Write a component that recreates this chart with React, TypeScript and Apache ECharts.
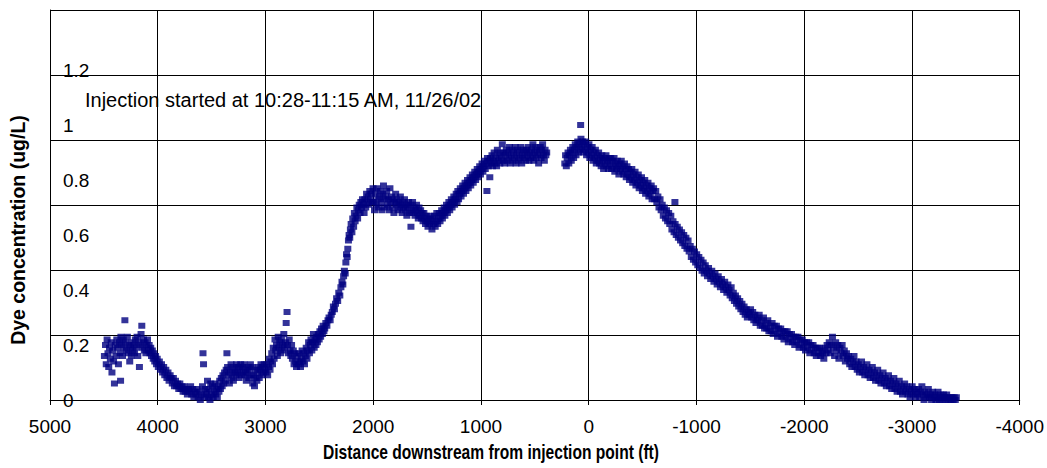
import React, { useEffect, useRef } from "react";
import * as echarts from "echarts";

// Distance downstream (ft) and dye concentration (ug/L)
const upstreamPlume: number[][] = [
  [4495,0.16],[4485,0.2],[4478,0.13],[4470,0.22],[4462,0.17],[4455,0.12],[4448,0.19],[4440,0.15],[4432,0.21],[4425,0.1],
  [4418,0.18],[4410,0.14],[4402,0.06],[4395,0.2],[4388,0.16],[4380,0.22],[4372,0.19],[4365,0.13],[4357,0.21],[4350,0.17],
  [4345,0.07],[4342,0.23],[4335,0.2],[4327,0.16],[4320,0.22],[4312,0.19],[4305,0.29],[4298,0.21],[4290,0.18],[4282,0.23],
  [4275,0.17],[4268,0.2],[4260,0.14],[4252,0.19],[4245,0.16],[4238,0.21],[4230,0.18],[4222,0.2],[4215,0.17],[4208,0.22],
  [4200,0.19],[4192,0.23],[4185,0.16],[4178,0.21],[4170,0.12],[4162,0.2],[4155,0.24],[4148,0.27],[4140,0.19],[4132,0.22],
  [4125,0.18],[4118,0.21],[4110,0.17],[4102,0.2],[4095,0.22],[4088,0.18],[4080,0.2],[4072,0.17],[4065,0.19],[4058,0.16],
  [4050,0.18],[4042,0.15],[4035,0.17],[4028,0.14],[4020,0.16],[4012,0.13],[4005,0.15],[3995,0.12],[3985,0.14],[3975,0.11],
  [3965,0.13],[3955,0.1],[3945,0.12],[3935,0.09],[3925,0.11],[3915,0.08],[3905,0.1],[3895,0.07],[3885,0.09],[3875,0.08],
  [3865,0.06],[3855,0.08],[3845,0.05],[3835,0.07],[3825,0.05],[3815,0.06],[3805,0.04],[3795,0.06],[3785,0.04],[3775,0.05],
  [3765,0.03],[3755,0.05],[3745,0.03],[3735,0.04],[3725,0.02],[3715,0.04],[3705,0.03],[3695,0.05],[3685,0.02],[3675,0.04],
  [3665,0.01],[3655,0.03],[3645,0.02],[3635,0.04],[3625,0.01],[3615,0.03],[3605,0.0],[3595,0.02],[3585,0.05],[3580,0.17],
  [3575,0.13],[3568,0.01],[3560,0.04],[3552,0.02],[3545,0.03],[3538,0.07],[3530,0.01],[3522,0.04],[3515,0.0],[3508,0.06],
  [3500,0.02],[3492,0.05],[3485,0.01],[3478,0.03],[3470,0.06],[3462,0.02],[3455,0.04],[3447,0.01],[3440,0.05],[3432,0.03],
  [3425,0.07],[3418,0.04],[3410,0.08],[3402,0.05],[3395,0.09],[3388,0.06],[3380,0.1],[3372,0.07],[3365,0.11],[3358,0.17],
  [3352,0.12],[3342,0.09],[3335,0.06],[3327,0.1],[3320,0.13],[3312,0.08],[3305,0.11],[3298,0.07],[3290,0.12],[3282,0.1],
  [3275,0.09],[3268,0.13],[3260,0.1],[3252,0.12],[3245,0.08],[3238,0.11],[3230,0.13],[3222,0.09],[3215,0.12],[3208,0.1],
  [3200,0.13],[3192,0.09],[3185,0.11],[3178,0.07],[3170,0.1],[3162,0.12],[3155,0.08],[3148,0.11],[3140,0.13],[3132,0.09],
  [3125,0.12],[3118,0.06],[3110,0.09],[3102,0.05],[3095,0.08],[3088,0.11],[3080,0.07],[3072,0.1],[3065,0.12],[3058,0.08],
  [3050,0.11],[3042,0.13],[3035,0.09],[3028,0.12],[3020,0.1],[3012,0.13],[3005,0.11]
];

const risingLimb: number[][] = [
  [2995,0.1],[2988,0.13],[2980,0.09],[2972,0.12],[2965,0.15],[2958,0.11],[2950,0.14],[2942,0.17],[2935,0.13],[2928,0.19],
  [2920,0.15],[2912,0.22],[2905,0.18],[2898,0.2],[2890,0.16],[2882,0.23],[2875,0.19],[2868,0.21],[2860,0.17],[2852,0.22],
  [2845,0.18],[2838,0.2],[2830,0.24],[2822,0.19],[2815,0.21],[2808,0.28],[2800,0.32],[2795,0.2],[2788,0.17],[2780,0.22],
  [2772,0.18],[2765,0.16],[2758,0.2],[2750,0.15],[2742,0.18],[2735,0.13],[2728,0.17],[2720,0.14],[2712,0.12],[2705,0.16],
  [2698,0.13],[2690,0.17],[2682,0.14],[2675,0.12],[2668,0.15],[2660,0.18],[2652,0.14],[2645,0.17],[2638,0.13],[2630,0.16],
  [2622,0.19],[2615,0.15],[2608,0.18],[2600,0.21],[2592,0.17],[2585,0.2],[2578,0.22],[2570,0.18],[2562,0.21],[2555,0.24],
  [2548,0.19],[2540,0.22],[2532,0.2],[2525,0.23],[2518,0.21],[2510,0.24],[2502,0.22],[2495,0.25],[2488,0.23],[2480,0.26],
  [2472,0.24],[2465,0.27],[2458,0.25],[2450,0.26],[2440,0.28],[2430,0.27],[2420,0.29],[2410,0.3],[2400,0.29],[2390,0.31],
  [2380,0.32],[2370,0.34],[2360,0.33],[2350,0.35],[2340,0.37],[2330,0.36],[2320,0.39],[2310,0.38],[2300,0.41],[2290,0.43],
  [2282,0.42],[2275,0.45],[2268,0.47],[2260,0.46],[2254,0.5],[2248,0.53],[2242,0.52],[2236,0.55],[2230,0.58],[2224,0.6],
  [2218,0.59],[2212,0.62],[2205,0.64],[2198,0.61],[2190,0.66],[2182,0.63],[2175,0.68],[2168,0.65],[2160,0.67],[2152,0.7],
  [2145,0.66],[2138,0.69],[2130,0.71],[2122,0.68],[2115,0.72],[2108,0.7],[2100,0.73],[2092,0.71],[2085,0.68],[2078,0.73],
  [2070,0.7],[2062,0.75],[2055,0.72],[2048,0.74],[2040,0.71],[2032,0.76],[2025,0.73],[2018,0.75],[2010,0.72],[2002,0.77]
];

const plateau: number[][] = [
  [1995,0.72],[1988,0.69],[1980,0.75],[1972,0.71],[1965,0.77],[1958,0.73],[1950,0.7],[1942,0.74],[1935,0.76],[1928,0.72],
  [1920,0.69],[1912,0.75],[1905,0.78],[1898,0.73],[1890,0.7],[1882,0.74],[1875,0.76],[1868,0.71],[1860,0.73],[1852,0.69],
  [1845,0.77],[1838,0.72],[1830,0.74],[1822,0.7],[1815,0.73],[1808,0.68],[1800,0.72],[1792,0.75],[1785,0.71],[1778,0.73],
  [1770,0.69],[1762,0.72],[1755,0.7],[1748,0.74],[1740,0.71],[1732,0.68],[1725,0.72],[1718,0.7],[1710,0.73],[1702,0.69],
  [1695,0.71],[1688,0.67],[1680,0.7],[1672,0.72],[1665,0.68],[1658,0.71],[1650,0.63],[1642,0.69],[1635,0.72],[1628,0.68],
  [1620,0.7],[1612,0.67],[1605,0.69],[1598,0.71],[1590,0.68],[1582,0.66],[1575,0.7],[1568,0.67],[1560,0.69],[1552,0.66],
  [1545,0.68],[1538,0.65],[1530,0.68],[1522,0.66],[1515,0.64],[1508,0.67],[1500,0.65],[1492,0.63],[1485,0.66],[1478,0.64],
  [1470,0.67],[1462,0.65],[1455,0.62],[1448,0.66],[1440,0.64],[1432,0.67],[1425,0.63],[1418,0.65],[1410,0.68],[1402,0.64],
  [1395,0.66],[1388,0.68],[1380,0.65],[1372,0.67],[1365,0.69],[1358,0.66],[1350,0.68],[1342,0.7],[1335,0.67],[1328,0.69],
  [1320,0.71],[1312,0.68],[1305,0.7],[1298,0.72],[1290,0.69],[1282,0.71],[1275,0.73],[1268,0.7],[1260,0.72],[1252,0.74],
  [1245,0.71],[1238,0.73],[1230,0.75],[1222,0.72],[1215,0.76],[1208,0.73],[1200,0.75],[1192,0.77],[1185,0.74],[1178,0.76],
  [1170,0.78],[1162,0.75],[1155,0.77],[1148,0.79],[1140,0.76],[1132,0.78],[1125,0.8],[1118,0.77],[1110,0.79],[1102,0.81],
  [1095,0.78],[1088,0.8],[1080,0.82],[1072,0.79],[1065,0.81],[1058,0.83],[1050,0.8],[1042,0.82],[1035,0.84],[1028,0.81],
  [1020,0.83],[1012,0.85],[1005,0.82],[998,0.84],[990,0.86],[982,0.83],[975,0.85],[968,0.87],[960,0.84],[952,0.86],
  [945,0.76],[940,0.88],[932,0.85],[925,0.87],[918,0.81],[912,0.88],[905,0.86],[898,0.89],[892,0.85],[885,0.87],
  [878,0.9],[870,0.86],[862,0.88],[855,0.85],[848,0.91],[840,0.87],[832,0.89],[825,0.86],[818,0.9],[810,0.88],
  [802,0.93],[795,0.87],[788,0.9],[780,0.86],[772,0.89],[765,0.91],[758,0.87],[750,0.9],[742,0.88],[735,0.92],
  [728,0.86],[720,0.89],[712,0.91],[705,0.87],[698,0.9],[690,0.88],[682,0.92],[675,0.86],[668,0.89],[660,0.91],
  [652,0.87],[645,0.9],[638,0.88],[630,0.92],[622,0.86],[615,0.89],[608,0.91],[600,0.88],[592,0.9],[585,0.87],
  [578,0.91],[570,0.89],[562,0.92],[555,0.87],[548,0.9],[540,0.88],[532,0.91],[525,0.89],[518,0.93],[510,0.87],
  [502,0.9],[495,0.92],[488,0.88],[480,0.91],[472,0.89],[465,0.86],[458,0.9],[450,0.92],[442,0.88],[435,0.91],
  [428,0.93],[420,0.89],[412,0.87],[405,0.91],[398,0.89],[390,0.9]
];

const peakSection: number[][] = [
  [222,0.86],[215,0.89],[208,0.85],[200,0.88],[192,0.9],[185,0.86],[178,0.89],[170,0.91],[162,0.87],[155,0.9],
  [148,0.92],[140,0.88],[132,0.91],[125,0.93],[118,0.89],[110,0.92],[102,0.94],[95,0.9],[88,0.93],[80,0.91],
  [75,1.0],[72,0.95],[65,0.92],[58,0.94],[50,0.9],[42,0.93],[35,0.91],[28,0.94],[20,0.89],[12,0.92],
  [5,0.9],[-2,0.93],[-10,0.88],[-18,0.91],[-25,0.89],[-32,0.92],[-40,0.87],[-48,0.9],[-55,0.88],[-62,0.91],
  [-70,0.86],[-78,0.89],[-85,0.87],[-92,0.9],[-100,0.86],[-108,0.88],[-115,0.85],[-122,0.89],[-130,0.87],[-138,0.84],
  [-145,0.88],[-152,0.86],[-160,0.89],[-168,0.85],[-175,0.87],[-182,0.84],[-190,0.88],[-198,0.86],[-205,0.88],[-212,0.84],
  [-220,0.87],[-228,0.85],[-235,0.88],[-242,0.83],[-250,0.86],[-258,0.84],[-265,0.87],[-272,0.85],[-280,0.82],[-288,0.86],
  [-295,0.84],[-302,0.87],[-310,0.83],[-318,0.85],[-325,0.82],[-332,0.86],[-340,0.84],[-348,0.81],[-355,0.85],[-362,0.82],
  [-370,0.84],[-378,0.8],[-385,0.83],[-392,0.81],[-400,0.84],[-408,0.79],[-415,0.82],[-422,0.8],[-430,0.83],[-438,0.78],
  [-445,0.81],[-452,0.79],[-460,0.82],[-468,0.77],[-475,0.8],[-482,0.78],[-490,0.81],[-498,0.76],[-505,0.79],[-512,0.77],
  [-520,0.8],[-528,0.75],[-535,0.78],[-542,0.76],[-550,0.79],[-558,0.74],[-565,0.77],[-572,0.75],[-580,0.78],[-588,0.73],
  [-595,0.76]
];

const fallingLimb: number[][] = [
  [-602,0.77],[-612,0.73],[-622,0.76],[-632,0.72],[-642,0.74],[-652,0.7],[-662,0.73],[-672,0.69],[-682,0.71],[-692,0.67],
  [-702,0.7],[-712,0.66],[-722,0.69],[-732,0.65],[-742,0.68],[-752,0.64],[-762,0.67],[-772,0.62],[-782,0.65],[-792,0.61],
  [-800,0.72],[-802,0.64],[-812,0.6],[-822,0.63],[-832,0.59],[-842,0.62],[-852,0.58],[-862,0.61],[-872,0.57],[-882,0.6],
  [-892,0.56],[-902,0.59],[-912,0.55],[-922,0.58],[-932,0.54],[-942,0.56],[-952,0.52],[-962,0.55],[-972,0.51],[-982,0.54],
  [-992,0.5],[-1002,0.53],[-1012,0.49],[-1022,0.52],[-1032,0.48],[-1042,0.51],[-1052,0.47],[-1062,0.5],[-1072,0.46],[-1082,0.49],
  [-1092,0.47],[-1102,0.45],[-1112,0.48],[-1122,0.46],[-1132,0.44],[-1142,0.47],[-1152,0.45],[-1162,0.43],[-1172,0.46],[-1182,0.44],
  [-1192,0.42],[-1202,0.45],[-1212,0.43],[-1222,0.41],[-1232,0.44],[-1242,0.42],[-1252,0.4],[-1262,0.43],[-1272,0.41],[-1282,0.39],
  [-1292,0.42],[-1302,0.4],[-1312,0.38],[-1322,0.41],[-1332,0.37],[-1342,0.39],[-1352,0.36],[-1362,0.38],[-1372,0.35],[-1382,0.37],
  [-1392,0.34],[-1402,0.36],[-1412,0.33],[-1422,0.35],[-1432,0.32],[-1442,0.34],[-1452,0.31],[-1462,0.33],[-1472,0.3],[-1482,0.32],
  [-1492,0.31],[-1502,0.33],[-1512,0.3],[-1522,0.32],[-1532,0.29],[-1542,0.31],[-1552,0.28],[-1562,0.3],[-1572,0.29],[-1582,0.31],
  [-1592,0.27],[-1602,0.29],[-1612,0.27],[-1622,0.3],[-1632,0.26],[-1642,0.28],[-1652,0.26],[-1662,0.29],[-1672,0.25],[-1682,0.27],
  [-1692,0.25],[-1702,0.28],[-1712,0.24],[-1722,0.27],[-1732,0.25],[-1742,0.27],[-1752,0.23],[-1762,0.26],[-1772,0.24],[-1782,0.26],
  [-1792,0.23],[-1802,0.25]
];

const tail: number[][] = [
  [-1812,0.22],[-1822,0.25],[-1832,0.23],[-1842,0.25],[-1852,0.21],[-1862,0.24],[-1872,0.22],[-1882,0.24],[-1892,0.21],[-1902,0.23],
  [-1912,0.2],[-1922,0.23],[-1932,0.21],[-1942,0.23],[-1952,0.19],[-1962,0.22],[-1972,0.2],[-1982,0.22],[-1992,0.19],[-2002,0.21],
  [-2012,0.18],[-2022,0.21],[-2032,0.19],[-2042,0.21],[-2052,0.17],[-2062,0.2],[-2072,0.18],[-2082,0.2],[-2092,0.17],[-2102,0.19],
  [-2112,0.16],[-2122,0.19],[-2132,0.17],[-2142,0.19],[-2152,0.16],[-2162,0.18],[-2172,0.17],[-2182,0.15],[-2192,0.19],[-2202,0.17],
  [-2212,0.2],[-2222,0.18],[-2232,0.21],[-2242,0.17],[-2252,0.2],[-2262,0.23],[-2272,0.19],[-2282,0.16],[-2292,0.21],[-2302,0.18],
  [-2312,0.2],[-2322,0.15],[-2332,0.19],[-2342,0.17],[-2352,0.2],[-2362,0.16],[-2372,0.18],[-2382,0.14],[-2392,0.17],[-2402,0.15],
  [-2412,0.16],[-2422,0.13],[-2432,0.15],[-2442,0.12],[-2452,0.14],[-2462,0.16],[-2472,0.12],[-2482,0.14],[-2492,0.11],[-2502,0.13],
  [-2512,0.1],[-2522,0.12],[-2532,0.14],[-2542,0.1],[-2552,0.12],[-2562,0.09],[-2572,0.11],[-2582,0.13],[-2592,0.09],[-2602,0.11],
  [-2612,0.08],[-2622,0.1],[-2632,0.12],[-2642,0.08],[-2652,0.1],[-2662,0.07],[-2672,0.09],[-2682,0.11],[-2692,0.07],[-2702,0.09],
  [-2712,0.06],[-2722,0.08],[-2732,0.1],[-2742,0.06],[-2752,0.08],[-2762,0.05],[-2772,0.07],[-2782,0.09],[-2792,0.05],[-2802,0.07],
  [-2812,0.04],[-2822,0.06],[-2832,0.08],[-2842,0.04],[-2852,0.06],[-2862,0.03],[-2872,0.05],[-2882,0.07],[-2892,0.03],[-2902,0.05],
  [-2912,0.02],[-2922,0.04],[-2932,0.06],[-2942,0.03],[-2952,0.05],[-2962,0.02],[-2972,0.04],[-2982,0.01],[-2992,0.03],[-3002,0.05],
  [-3012,0.02],[-3022,0.04],[-3032,0.01],[-3042,0.03],[-3052,0.02],[-3062,0.04],[-3072,0.01],[-3082,0.03],[-3092,0.05],[-3102,0.02],
  [-3112,0.0],[-3122,0.03],[-3132,0.01],[-3142,0.02],[-3152,0.04],[-3162,0.01],[-3172,0.02],[-3182,0.0],[-3192,0.03],[-3202,0.01],
  [-3212,0.02],[-3222,0.0],[-3232,0.01],[-3242,0.03],[-3252,0.0],[-3262,0.02],[-3272,0.01],[-3282,0.0],[-3292,0.02],[-3302,0.01],
  [-3312,0.0],[-3322,0.02],[-3332,0.01],[-3342,0.0],[-3352,0.01],[-3362,0.0],[-3372,0.01],[-3382,0.0],[-3392,0.01],[-3402,0.0],
  [-3412,0.01]
];

const xTicks = { min: -4000, max: 5000, interval: 1000 };
const yLabelValues = [0, 0.2, 0.4, 0.6, 0.8, 1, 1.2];
const annotation = "Injection started at 10:28-11:15 AM, 11/26/02";
const xTitle = "Distance downstream from injection point (ft)";
const yTitle = "Dye concentration (ug/L)";

const FONT = "'Liberation Sans', Arial, Helvetica, sans-serif";

export default function App() {
  const ref = useRef<HTMLDivElement>(null);
  useEffect(() => {
    if (!ref.current) return;
    const chart = echarts.init(ref.current, undefined, { renderer: "svg" });
    const allPoints = [...upstreamPlume, ...risingLimb, ...plateau, ...peakSection, ...fallingLimb, ...tail];
    const yMax = 390 / 275;
    chart.setOption({
      animation: false,
      backgroundColor: "#ffffff",
      textStyle: { fontFamily: FONT },
      grid: { left: 50, top: 10, width: 970, height: 390, containLabel: false },
      xAxis: {
        type: "value",
        inverse: true,
        min: xTicks.min,
        max: xTicks.max,
        interval: xTicks.interval,
        axisLine: { show: true, lineStyle: { color: "#000", width: 1 } },
        axisTick: { show: true, length: 5, lineStyle: { color: "#000" } },
        axisLabel: {
          color: "#000",
          fontSize: 19,
          fontFamily: FONT,
          margin: 17,
          formatter: (v: number) => String(v),
        },
        splitLine: { show: true, lineStyle: { color: "#000", width: 1 } },
      },
      yAxis: [
        {
          type: "value",
          min: 0,
          max: yMax,
          interval: 0.2,
          axisLine: { show: true, onZero: false, lineStyle: { color: "#000", width: 1 } },
          axisTick: { show: false },
          splitLine: { show: false },
          axisLabel: {
            inside: true,
            margin: 13,
            color: "#000",
            fontSize: 19,
            fontFamily: FONT,
            padding: [6, 0, 0, 0],
            formatter: (v: number) => {
              const r = Math.round(v * 10) / 10;
              return yLabelValues.includes(r) ? String(r) : "";
            },
          },
        },
        {
          type: "value",
          min: 0,
          max: 6,
          interval: 1,
          axisLine: { show: false },
          axisTick: { show: false },
          axisLabel: { show: false },
          splitLine: { show: true, lineStyle: { color: "#000", width: 1 } },
        },
      ],
      series: [
        {
          type: "scatter",
          yAxisIndex: 0,
          symbol: "rect",
          symbolSize: [7, 6],
          itemStyle: { color: "#000080" },
          data: allPoints,
          z: 3,
        },
      ],
      graphic: [
        {
          type: "text",
          left: 85,
          top: 90,
          style: { text: annotation, fill: "#000", font: `20px ${FONT}` },
          z: 10,
        },
        {
          type: "text",
          x: 18,
          y: 230,
          rotation: Math.PI / 2,
          style: {
            text: yTitle,
            fill: "#000",
            font: `bold 19.5px ${FONT}`,
            textAlign: "center",
            textVerticalAlign: "middle",
          },
        },
        {
          type: "text",
          x: 491,
          y: 452,
          scaleX: 0.8,
          scaleY: 1,
          style: {
            text: xTitle,
            fill: "#000",
            font: `bold 19.5px ${FONT}`,
            textAlign: "center",
            textVerticalAlign: "middle",
          },
        },
      ],
    });
    return () => chart.dispose();
  }, []);
  return (
    <div
      ref={ref}
      style={{ position: "fixed", left: 0, top: 0, width: 1047, height: 468, background: "#fff" }}
    />
  );
}
